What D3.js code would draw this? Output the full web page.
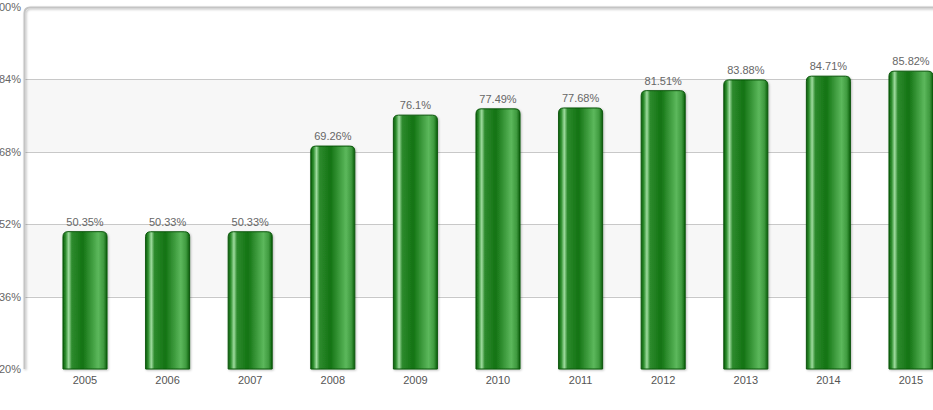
<!DOCTYPE html>
<html><head><meta charset="utf-8">
<script src="https://cdn.jsdelivr.net/npm/d3@7"></script>
<style>body{margin:0;background:#fff;}svg{display:block;font-family:"Liberation Sans",Arial,sans-serif;}</style>
</head><body><svg id="c" width="933" height="410"></svg>
<script>
const years = ["2005","2006","2007","2008","2009","2010","2011","2012","2013","2014","2015"];
const values = [50.35,50.33,50.33,69.26,76.1,77.49,77.68,81.51,83.88,84.71,85.82];
const valueLabels = ["50.35%","50.33%","50.33%","69.26%","76.1%","77.49%","77.68%","81.51%","83.88%","84.71%","85.82%"];
const yTicks = [20,36,52,68,84,100];

(function(){
const svg = d3.select("#c");
const pLeft = 24, pTop = 7, pBottom = 369, pRight = 960;
const y = d3.scaleLinear().domain([20,100]).range([pBottom, pTop]);
const pin = 0.467;
const x = d3.scaleBand().domain(years).range([43.7, 952.3]).paddingInner(pin).paddingOuter(pin/2);

const defs = svg.append("defs");
const g = defs.append("linearGradient").attr("id","bg").attr("x1","0").attr("x2","1").attr("y1","0").attr("y2","0");
[[0,"#0b5e0b"],[0.06,"#2f8f2f"],[0.13,"#9fdc9f"],[0.2,"#2e8b2e"],[0.45,"#137313"],[0.8,"#5cb85c"],[0.92,"#3f9a3f"],[1,"#0b5e0b"]]
  .forEach(([o,c])=>g.append("stop").attr("offset",o).attr("stop-color",c));
const sh = defs.append("filter").attr("id","sh").attr("x","-10%").attr("y","-10%").attr("width","120%").attr("height","120%");
sh.append("feDropShadow").attr("dx",1).attr("dy",1).attr("stdDeviation",1).attr("flood-color","#000").attr("flood-opacity",0.25);

// bands
for (let i=0;i<yTicks.length-1;i++){
  if (i%2===1){
    svg.append("rect").attr("x",pLeft).attr("y",y(yTicks[i+1])).attr("width",pRight-pLeft).attr("height",y(yTicks[i])-y(yTicks[i+1])).attr("fill","#f7f7f7");
  }
}
// grid
svg.selectAll(".grid").data(yTicks.slice(1,-1)).enter().append("line")
  .attr("x1",pLeft).attr("x2",pRight).attr("y1",d=>Math.round(y(d))+0.5).attr("y2",d=>Math.round(y(d))+0.5)
  .attr("stroke","#c8c8c8").attr("stroke-width",1);

// frame (top-left rounded)
svg.append("path").attr("d",`M${pLeft+0.5},${pBottom} L${pLeft+0.5},${pTop+6} Q${pLeft+0.5},${pTop+0.5} ${pLeft+6},${pTop+0.5} L${pRight},${pTop+0.5}`)
  .attr("fill","none").attr("stroke","#c4c4c4").attr("stroke-width",2).attr("filter","url(#sh)");
svg.append("line").attr("x1",pLeft).attr("x2",pRight).attr("y1",pBottom+0.5).attr("y2",pBottom+0.5).attr("stroke","#c4c4c4").attr("stroke-width",2).attr("filter","url(#sh)");

// y labels
svg.selectAll(".yl").data(yTicks).enter().append("text")
  .attr("x",21).attr("y",d=>y(d)+4).attr("text-anchor","end").attr("font-size",11).attr("fill","#666")
  .text(d=>d+"%");

// bars
const r = 5;
svg.selectAll(".bar").data(years).enter().append("path")
  .attr("d",(d,i)=>{
    const x0 = x(d), w = x.bandwidth(), y0 = y(values[i]), y1 = pBottom;
    return `M${x0},${y1} L${x0},${y0+r} Q${x0},${y0} ${x0+r},${y0} L${x0+w-r},${y0} Q${x0+w},${y0} ${x0+w},${y0+r} L${x0+w},${y1} Z`;
  })
  .attr("fill","url(#bg)").attr("stroke","#0a560a").attr("stroke-width",1).attr("filter","url(#sh)");

// value labels
svg.selectAll(".vl").data(years).enter().append("text")
  .attr("x",d=>x(d)+x.bandwidth()/2).attr("y",(d,i)=>y(values[i])-6)
  .attr("text-anchor","middle").attr("font-size",11).attr("fill","#666").text((d,i)=>valueLabels[i]);

// x labels
svg.selectAll(".xl").data(years).enter().append("text")
  .attr("x",d=>x(d)+x.bandwidth()/2).attr("y",384)
  .attr("text-anchor","middle").attr("font-size",11).attr("fill","#555").text(d=>d);
})();
</script></body></html>
